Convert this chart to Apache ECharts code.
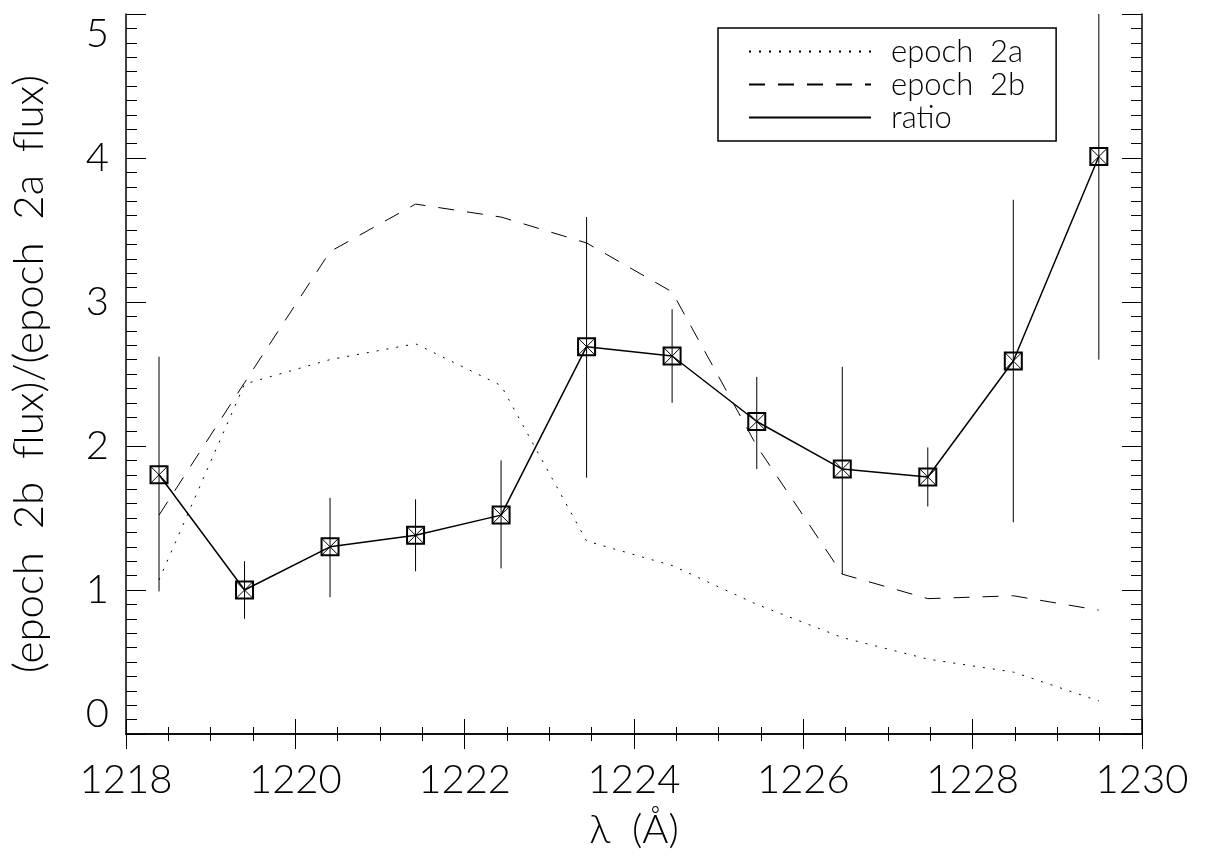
<!DOCTYPE html>
<html>
<head>
<meta charset="utf-8">
<script src="https://cdn.jsdelivr.net/npm/echarts@6/dist/echarts.min.js"></script>
<style>
  html, body { margin: 0; padding: 0; background: #fff; }
  #chart { width: 1207px; height: 857px; }
</style>
</head>
<body>
<div id="chart"></div>
<script>
// wavelength bins (Å)
const wave = [1218.39, 1219.40, 1220.41, 1221.42, 1222.43, 1223.44,
  1224.45, 1225.45, 1226.46, 1227.47, 1228.48, 1229.49];

// epoch 2a flux (dotted) and epoch 2b flux (dashed)
const epoch2a = [1.07, 2.43, 2.60, 2.71, 2.42, 1.34, 1.17, 0.90, 0.67, 0.52, 0.43, 0.23];
const epoch2b = [1.52, 2.44, 3.35, 3.68, 3.59, 3.41, 3.07, 2.00, 1.11, 0.94, 0.96, 0.86];

// ratio with error bar ends
const ratio = [1.80, 1.00, 1.30, 1.38, 1.52, 2.69, 2.625, 2.17, 1.84, 1.785, 2.59, 4.01];
const errLow = [0.99, 0.80, 0.95, 1.13, 1.15, 1.78, 2.30, 1.84, 1.11, 1.58, 1.47, 2.60];
const errHigh = [2.62, 1.20, 1.64, 1.63, 1.90, 3.59, 2.95, 2.48, 2.55, 1.99, 3.71, 5.42];

const xTicks = [1218, 1220, 1222, 1224, 1226, 1228, 1230];
const yTicks = [0, 1, 2, 3, 4, 5];

const FONT = 'Lato';
const INK = '#000';

const pair = (xs, ys) => xs.map((x, i) => [x, ys[i]]);

const chart = echarts.init(document.getElementById('chart'));

// axis shared bits
const xBase = {
  type: 'value',
  min: xTicks[0],
  max: xTicks[xTicks.length - 1],
  interval: 2,
  splitLine: { show: false },
  axisLine: { show: true, lineStyle: { color: INK, width: 1.5 } },
  axisTick: { show: true, inside: true, length: 15, lineStyle: { color: INK, width: 1 } },
  minorTick: { show: true, splitNumber: 4, length: 7, lineStyle: { color: INK, width: 1 } },
};
const yBase = {
  type: 'value',
  min: yTicks[0],
  max: yTicks[yTicks.length - 1],
  interval: 1,
  splitLine: { show: false },
  axisLine: { show: true, lineStyle: { color: INK, width: 1.5 } },
  axisTick: { show: true, inside: true, length: 20, lineStyle: { color: INK, width: 1 } },
  minorTick: { show: true, splitNumber: 10, length: 11, lineStyle: { color: INK, width: 1 } },
};

const option = {
  animation: false,
  backgroundColor: '#fff',
  grid: { left: 125, right: 65, top: 14, bottom: 123, containLabel: false },
  legend: {
    orient: 'vertical',
    left: 718,
    top: 28,
    data: ['epoch  2a', 'epoch  2b', 'ratio'],
    itemWidth: 122,
    itemHeight: 14,
    itemGap: 2,
    padding: [8, 31, 8, 30],
    borderColor: INK,
    borderWidth: 1.5,
    itemStyle: { opacity: 0 },
    textStyle: {
      fontFamily: FONT,
      fontWeight: 300,
      fontSize: 31,
      color: INK,
      padding: [0, 0, 0, 15],
    },
  },
  xAxis: [
    {
      ...xBase,
      position: 'bottom',
      name: 'λ  (Å)',
      nameLocation: 'middle',
      nameGap: 76,
      nameTextStyle: { fontFamily: FONT, fontWeight: 300, fontSize: 40, color: INK },
      axisLabel: {
        margin: 26, fontFamily: FONT, fontWeight: 300, fontSize: 40, color: INK,
        formatter: (v) => String(v),
      },
    },
    {
      ...xBase,
      position: 'top',
      axisLabel: { show: false },
    },
  ],
  yAxis: [
    {
      ...yBase,
      position: 'left',
      name: '(epoch  2b  flux)/(epoch  2a  flux)',
      nameLocation: 'middle',
      nameGap: 76,
      nameTextStyle: { fontFamily: FONT, fontWeight: 300, fontSize: 42, color: INK },
      axisLabel: {
        margin: 17, fontFamily: FONT, fontWeight: 300, fontSize: 40, color: INK,
        verticalAlignMinLabel: 'bottom',
        verticalAlignMaxLabel: 'top',
        formatter: (v) => String(v),
      },
    },
    {
      ...yBase,
      position: 'right',
      axisLabel: { show: false },
    },
  ],
  series: [
    {
      name: 'epoch  2a',
      type: 'line',
      data: pair(wave, epoch2a),
      symbol: 'none',
      lineStyle: { color: INK, width: 1, type: [2, 8] },
      itemStyle: { color: INK },
    },
    {
      name: 'epoch  2b',
      type: 'line',
      data: pair(wave, epoch2b),
      symbol: 'none',
      lineStyle: { color: INK, width: 1, type: [16, 13] },
      itemStyle: { color: INK },
    },
    {
      name: 'ratio',
      type: 'line',
      data: pair(wave, ratio),
      symbol: 'none',
      lineStyle: { color: INK, width: 1.5, type: 'solid' },
      itemStyle: { color: INK },
    },
    {
      // error bars
      name: 'ratio err',
      type: 'custom',
      clip: true,
      data: wave.map((x, i) => [x, errLow[i], errHigh[i]]),
      renderItem: function (params, api) {
        const lo = api.coord([api.value(0), api.value(1)]);
        const hi = api.coord([api.value(0), api.value(2)]);
        return {
          type: 'line',
          shape: { x1: lo[0], y1: lo[1], x2: hi[0], y2: hi[1] },
          style: { stroke: INK, lineWidth: 1 },
        };
      },
      z: 3,
    },
    {
      // boxed-x markers
      name: 'ratio pts',
      type: 'custom',
      data: pair(wave, ratio),
      renderItem: function (params, api) {
        const p = api.coord([api.value(0), api.value(1)]);
        const h = 8.5;
        return {
          type: 'group',
          children: [
            {
              type: 'rect',
              shape: { x: p[0] - h, y: p[1] - h, width: 2 * h, height: 2 * h },
              style: { fill: 'none', stroke: INK, lineWidth: 2 },
            },
            {
              type: 'line',
              shape: { x1: p[0] - h, y1: p[1] - h, x2: p[0] + h, y2: p[1] + h },
              style: { stroke: INK, lineWidth: 1 },
            },
            {
              type: 'line',
              shape: { x1: p[0] - h, y1: p[1] + h, x2: p[0] + h, y2: p[1] - h },
              style: { stroke: INK, lineWidth: 1 },
            },
          ],
        };
      },
      z: 4,
    },
  ],
};

chart.setOption(option);
</script>
</body>
</html>
